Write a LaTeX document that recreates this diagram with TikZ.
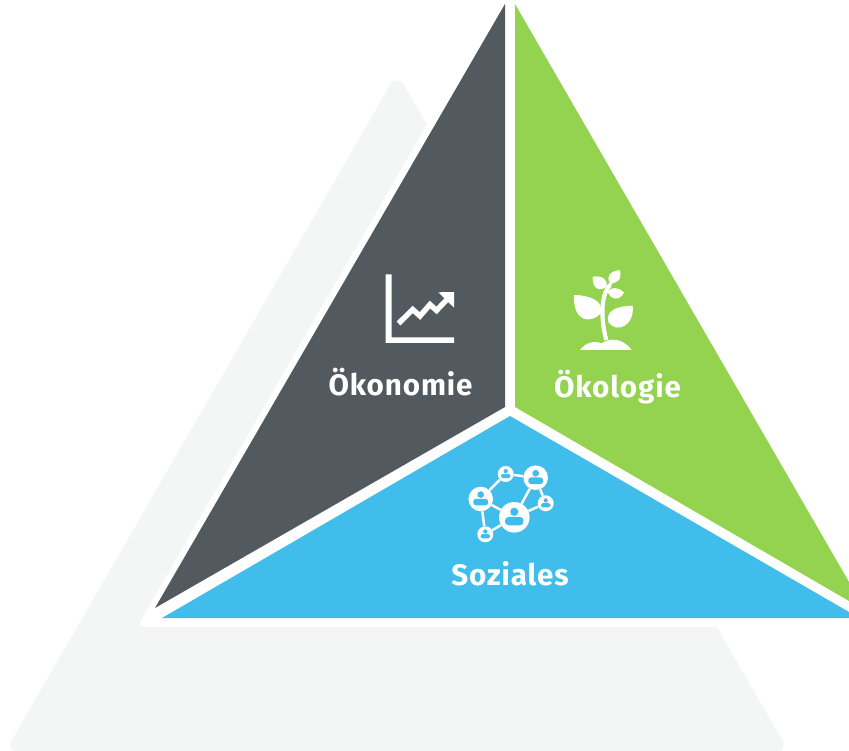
\documentclass[tikz,border=0pt]{standalone}
\usepackage{fontspec}
\setmainfont{Fira Sans}[LetterSpace=3]
\definecolor{darkc}{HTML}{52595F}
\definecolor{greenc}{HTML}{93D34F}
\definecolor{bluec}{HTML}{40BDEA}
\definecolor{greyc}{HTML}{F4F6F5}
\tikzset{
  label text/.style={text=white,font=\fontsize{29.6}{33}\selectfont\bfseries,inner sep=0pt,anchor=center},
  hub/.style={circle,fill=white,inner sep=0pt,minimum size=#1},
  link/.style={draw=white,line width=2.5pt},
  person/.pic={
    \fill[bluec] (0,-0.36*#1) circle[radius=0.27*#1];
    \fill[bluec,rounded corners=0.22*#1] (-0.6*#1,0.52*#1) -- (-0.6*#1,-0.02*#1) -- (0.6*#1,-0.02*#1) -- (0.6*#1,0.52*#1) -- cycle;
  }
}
\begin{document}
\begin{tikzpicture}[x=1pt,y=-1pt]
\useasboundingbox (0,0) rectangle (849,751);
\clip (0,0) rectangle (849,751);
% background triangles
\fill[greyc,rounded corners=14pt] (397,73) -- (789,752) -- (5,752) -- cycle;
\fill[white,rounded corners=8pt] (510,-19) -- (1000,627) -- (137,627) -- cycle;
% sectors
\fill[darkc] (505,4) -- (505,407) -- (155,608) -- cycle;
\fill[greenc] (515,4) -- (849,582) -- (849,601) -- (515,407) -- cycle;
\fill[bluec] (510,416) -- (849,612) -- (849,618) -- (162,618) -- cycle;
% chart icon
\fill[white] (385.7,274.5) -- (391.7,274.5) -- (391.7,337.3) -- (454,337.3) -- (454,342.8) -- (385.7,342.8) -- cycle;
\draw[white,line width=5.4pt] (398.5,323.5) -- (412.7,309.5) -- (420,316) -- (430,304.5) -- (436.5,310.5) -- (447,299.5);
\fill[white] (438.3,292.3) -- (454,292) -- (454,307.7) -- cycle;
% plant icon
\begin{scope}[shift={(560,260)},x=0.3333pt,y=-0.3333pt]
\fill[white] (60,270) .. controls (75,250) and (100,240) .. (125,250) .. controls (145,235) and (185,230) .. (215,270) -- cycle;
\draw[white,line width=4.2pt] (139,240) .. controls (125,190) and (118,110) .. (150,75);
\draw[white,line width=3pt] (150,75) -- (163,50);
\fill[white] (42,105) .. controls (95,106) and (132,125) .. (122,160) .. controls (95,192) and (38,188) .. (42,105) -- cycle;
\fill[white] (218,137) .. controls (165,138) and (135,155) .. (146,188) .. controls (172,222) and (225,195) .. (218,137) -- cycle;
\fill[white] (180,30) .. controls (148,34) and (138,50) .. (150,69) .. controls (172,72) and (186,58) .. (180,30) -- cycle;
\fill[white] (98,50) .. controls (128,46) and (145,60) .. (139,80) .. controls (120,96) and (96,88) .. (98,50) -- cycle;
\fill[white] (192,98) .. controls (175,80) and (152,80) .. (143,95) .. controls (153,122) and (180,122) .. (192,98) -- cycle;
\end{scope}
% network icon
\node[hub=24.6pt] (A) at (480.7,499) {};
\node[hub=16pt] (B) at (505.7,474) {};
\node[hub=24.6pt] (C) at (535.7,477.7) {};
\node[hub=30.6pt] (D) at (514.3,517.3) {};
\node[hub=16pt] (E) at (545.7,503.3) {};
\node[hub=16pt] (F) at (485.3,534.3) {};
\foreach \a/\b in {A/B,B/C,C/D,C/E,E/D,A/D,A/F,F/D} \draw[link] (\a) -- (\b);
\pic at (A) {person=12.3};
\pic at (B) {person=8};
\pic at (C) {person=12.3};
\pic at (D) {person=15.3};
\pic at (E) {person=8};
\pic at (F) {person=8};
% labels
\node[label text] (oek) at (400.5,382) {Ökonomie};
\node[label text] (oeko) at (617.5,387) {Ökologie};
\node[label text] (soz) at (510,574) {Soziales};
\end{tikzpicture}
\end{document}
